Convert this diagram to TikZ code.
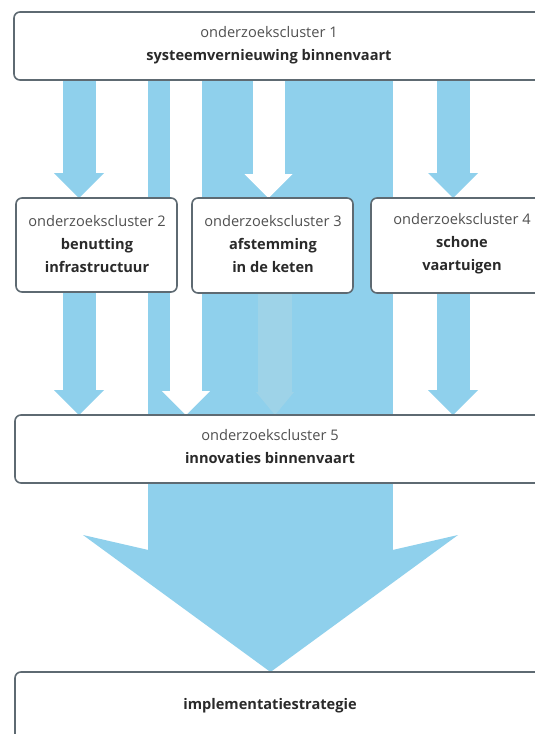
\documentclass[tikz,border=0pt]{standalone}
\usepackage{fontspec}
\setmainfont{Open Sans}
\usetikzlibrary{arrows.meta}
\definecolor{flow}{HTML}{8FD0EC}
\definecolor{flowpale}{HTML}{9ED3E8}
\definecolor{frame}{HTML}{5E6A72}
\definecolor{ink}{HTML}{2A2A2A}
\definecolor{inksoft}{HTML}{505050}
\pgfdeclarelayer{flows}
\pgfsetlayers{flows,main}
\begin{document}
\begin{tikzpicture}[x=1pt,y=-1pt,
  box/.style={draw=frame, line width=1.6pt, rounded corners=6pt, fill=white,
    inner sep=0pt, outer sep=0pt, anchor=north west},
  label text/.style={align=center, text=ink, inner sep=0pt,
    font=\fontsize{14.6}{23}\selectfont},
  bigflow/.style={draw=flow, line width=245pt,
    -{Stealth[width=375pt, length=137pt, inset=43pt, line width=0pt]}},
  flowarrow/.style={draw=flow, line width=33pt,
    -{Triangle[width=50pt, length=25pt, line width=0pt]}},
  gaparrow/.style={draw=white, line width=32pt,
    -{Triangle[width=48pt, length=24pt, line width=0pt]}},
  palearrow/.style={draw=flowpale, line width=34pt,
    -{Triangle[width=38pt, length=23pt, line width=0pt]}},
]
\useasboundingbox (0,0) rectangle (535,734);
\clip (0,0) rectangle (535,734);

% boxes
\node[box, minimum width=546pt, minimum height=68pt] (b1) at (14,12) {};
\node[box, minimum width=161pt, minimum height=94pt] (b2) at (16,198) {};
\node[box, minimum width=161pt, minimum height=95pt] (b3) at (192,198) {};
\node[box, minimum width=189pt, minimum height=95pt] (b4) at (371,198) {};
\node[box, minimum width=545pt, minimum height=68pt] (b5) at (15,415) {};
\node[box, minimum width=545pt, minimum height=100pt] (b6) at (15,672) {};

% box texts
\node[label text] (t1) at (269,45) {{\color{inksoft}onderzoekscluster 1}\\\textbf{systeemvernieuwing binnenvaart}};
\node[label text] (t2) at (97,244) {{\color{inksoft}onderzoekscluster 2}\\\textbf{benutting}\\\textbf{infrastructuur}};
\node[label text] (t3) at (273,244) {{\color{inksoft}onderzoekscluster 3}\\\textbf{afstemming}\\\textbf{in de keten}};
\node[label text] (t4) at (462,244) {{\color{inksoft}onderzoekscluster 4}\\\textbf{schone}\\\textbf{vaartuigen}};
\node[label text] (t5) at (270,447) {{\color{inksoft}onderzoekscluster 5}\\\textbf{innovaties binnenvaart}};
\node[label text] (t6) at (270,706) {\textbf{implementatiestrategie}};

% columns of the flows
\coordinate (cL) at (79,0);
\coordinate (cG) at (186,0);
\coordinate (cM) at (270.5,0);
\coordinate (cK) at (268.5,0);
\coordinate (cP) at (275,0);
\coordinate (cR) at (453,0);

% flows, beneath the boxes
\begin{pgfonlayer}{flows}
  \fill[white] (0,0) rectangle (535,734);
  \draw[bigflow]   (b1.south -| cM) -- (b6.north -| cM);
  \draw[gaparrow]  (b1.south -| cG) -- (b5.north -| cG);
  \draw[gaparrow]  (b1.south -| cK) -- (b3.north -| cK);
  \draw[palearrow] (b3.south -| cP) -- (b5.north -| cP);
  \draw[flowarrow] (b1.south -| cL) -- (b2.north -| cL);
  \draw[flowarrow] (b2.south -| cL) -- (b5.north -| cL);
  \draw[flowarrow] (b1.south -| cR) -- (b4.north -| cR);
  \draw[flowarrow] (b4.south -| cR) -- (b5.north -| cR);
\end{pgfonlayer}
\end{tikzpicture}
\end{document}
